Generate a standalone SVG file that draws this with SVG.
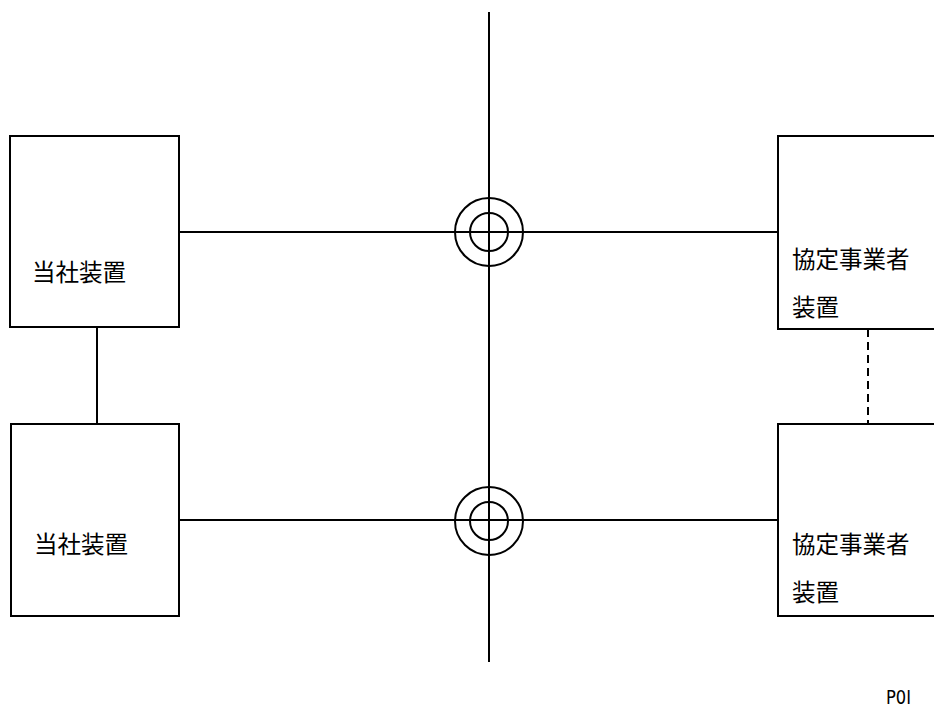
<svg xmlns="http://www.w3.org/2000/svg" width="934" height="709" viewBox="0 0 934 709">
<style>
.box{fill:#fff;stroke:#000;stroke-width:2}
.ln{stroke:#000;stroke-width:2;fill:none}
.dash{stroke:#000;stroke-width:2;fill:none;stroke-dasharray:8 5}
.lbl{font-family:"Noto Sans CJK JP","Noto Sans CJK SC",sans-serif;font-size:23.5px;fill:#000}
.poi{font-family:"DejaVu Sans","Liberation Sans",sans-serif;font-size:20px;fill:#000}
</style>
<rect width="934" height="709" fill="#fff"/>
<g id="connectors">
<line class="ln" x1="489" y1="12" x2="489" y2="662"/>
<line class="ln" x1="179" y1="232" x2="778" y2="232"/>
<line class="ln" x1="179" y1="520" x2="778" y2="520"/>
<line class="ln" x1="97" y1="327" x2="97" y2="424"/>
<line class="dash" x1="868" y1="329" x2="868" y2="424"/>
<circle class="ln" cx="489" cy="232" r="34"/>
<circle class="ln" cx="489" cy="232" r="19"/>
<circle class="ln" cx="489" cy="521" r="34"/>
<circle class="ln" cx="489" cy="521" r="19"/>
</g>
<g id="node-tl">
<rect class="box" x="10" y="136" width="169" height="191"/>
<text class="lbl" x="32" y="281">当社装置</text>
</g>
<g id="node-bl">
<rect class="box" x="11" y="424" width="168" height="192"/>
<text class="lbl" x="34" y="553">当社装置</text>
</g>
<g id="node-tr">
<rect class="box" x="778" y="136" width="170" height="193"/>
<text class="lbl" x="792" y="268">協定事業者</text>
<text class="lbl" x="792" y="316">装置</text>
</g>
<g id="node-br">
<rect class="box" x="778" y="424" width="170" height="192"/>
<text class="lbl" x="792" y="553">協定事業者</text>
<text class="lbl" x="792" y="601">装置</text>
</g>
<text class="poi" x="886" y="704" textLength="25" lengthAdjust="spacingAndGlyphs">P0I</text>
</svg>
